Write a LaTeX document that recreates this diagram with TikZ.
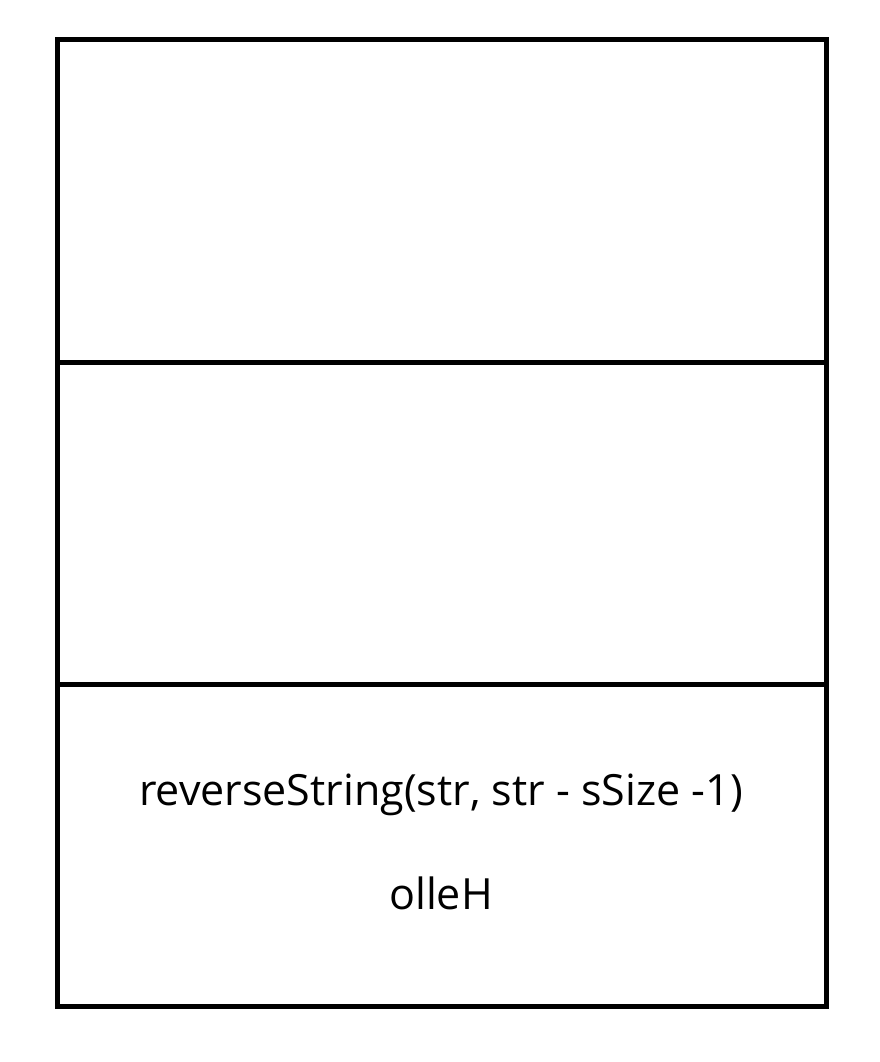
\documentclass[tikz,border=0pt]{standalone}
\usepackage{fontspec}
\setmainfont{Open Sans}
\begin{document}
\begin{tikzpicture}[x=1pt,y=-1pt,
  frame/.style={draw=black,line width=5pt,minimum width=769pt,minimum height=322pt,inner sep=0pt,outer sep=0pt,anchor=north west},
  label/.style={font=\fontsize{43}{50}\selectfont,inner sep=0pt}]
\useasboundingbox (0,0) rectangle (879,1062);
\node[frame] (top) at (57,40) {};
\node[frame] (mid) at (57,362) {};
\node[frame] (bot) at (57,684) {};
\node[label] (call) at (441,795) {reverseString(str, str - sSize -1)};
\node[label] (res) at (441,893) {olleH};
\end{tikzpicture}
\end{document}
